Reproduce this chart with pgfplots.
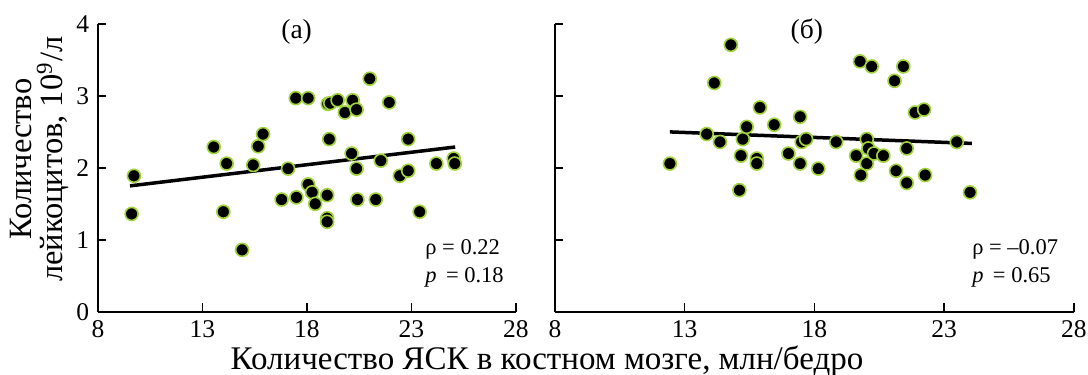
\documentclass[border=0pt]{standalone}
\usepackage{fontspec}
\setmainfont{Liberation Serif}
\usepackage{pgfplots}
\pgfplotsset{compat=1.18}
\definecolor{mkedge}{RGB}{160,210,60}
\pgfplotsset{panel/.style={
  scale only axis, height=115.1pt,
  xmin=8, xmax=28, ymin=0, ymax=4,
  xtick={8,13,18,23,28}, ytick={0,1,2,3,4},
  axis lines=left, axis line style={-, line width=0.6pt},
  tick align=inside, major tick length=3.3pt,
  tick style={black, line width=0.6pt},
  tick label style={font=\fontsize{10.2}{12}\selectfont},
  xticklabel style={yshift=-2.2pt, inner sep=1pt},
  /pgf/number format/assume math mode=true,
  clip=false,
},
pts/.style={only marks, mark=*, mark size=2.6pt, mark options={fill=black, draw=mkedge, line width=0.65pt}},
fit/.style={black, line width=1.4pt, no marks},
}
\tikzset{ann/.style={anchor=west, font=\fontsize{9}{10}\selectfont, inner sep=0pt}}
\begin{document}
\begin{tikzpicture}
\useasboundingbox (-39.2pt,-24.9pt) rectangle (396pt,124.7pt);
\begin{axis}[panel, width=167.1pt,
  ylabel={Количество\\лейкоцитов, 10\textsuperscript{9}/л},
  ylabel style={align=center, font=\fontsize{13}{12.5}\selectfont, inner sep=0pt, at={(axis description cs:-0.14,0.53)}, anchor=center}]
\addplot[pts] table {
9.72 1.89
9.61 1.36
13.54 2.29
14.16 2.06
14.00 1.39
14.90 0.86
15.43 2.04
15.67 2.30
15.90 2.47
16.79 1.56
17.10 1.99
17.50 1.59
17.47 2.97
18.06 2.97
18.06 1.77
18.25 1.66
18.40 1.50
18.97 1.62
18.97 1.30
18.97 1.25
19.07 2.40
19.00 2.89
19.12 2.90
19.47 2.94
19.82 2.77
20.19 2.94
20.14 2.20
20.38 1.99
20.42 1.56
20.38 2.81
21.01 3.24
21.30 1.56
21.54 2.10
21.94 2.91
22.45 1.89
22.85 1.96
22.85 2.40
23.40 1.39
24.20 2.06
25.03 2.13
25.08 2.06
};
\addplot[fit] coordinates {(9.53,1.75) (25.1,2.29)};
\node[font=\fontsize{11}{12}\selectfont] at (axis cs:17.51,3.89) {(а)};
\node[ann] at (axis cs:23.65,0.86) {ρ = 0.22};
\node[ann] at (axis cs:23.65,0.48) {\textit{p}\, = 0.18};
\end{axis}
\begin{axis}[panel, width=207.5pt, at={(182.8pt,0pt)}, yticklabels={}]
\addplot[pts] table {
12.43 2.06
13.85 2.47
14.36 2.36
14.14 3.18
14.78 3.71
15.11 1.69
15.17 2.17
15.24 2.40
15.39 2.57
15.78 2.13
15.78 2.06
15.90 2.84
16.45 2.60
17.00 2.20
17.45 2.71
17.45 2.06
17.51 2.36
17.68 2.40
18.15 1.99
18.84 2.36
19.61 2.17
19.79 1.90
19.76 3.48
20.21 3.41
20.02 2.40
20.08 2.27
20.02 2.06
20.30 2.20
20.66 2.17
21.43 3.41
21.09 3.21
21.88 2.77
22.23 2.81
21.56 2.27
21.15 1.96
21.56 1.79
22.27 1.90
23.49 2.36
24.00 1.66
};
\addplot[fit] coordinates {(12.43,2.50) (24.07,2.34)};
\node[font=\fontsize{11}{12}\selectfont] at (axis cs:17.71,3.89) {(б)};
\node[ann] at (axis cs:24.07,0.86) {ρ = –0.07};
\node[ann] at (axis cs:24.07,0.48) {\textit{p}\, = 0.65};
\end{axis}
\node[font=\fontsize{13.2}{14}\selectfont, inner sep=0pt] at (179.6pt,-19.6pt) {Количество ЯСК в костном мозге, млн/бедро};
\end{tikzpicture}
\end{document}
